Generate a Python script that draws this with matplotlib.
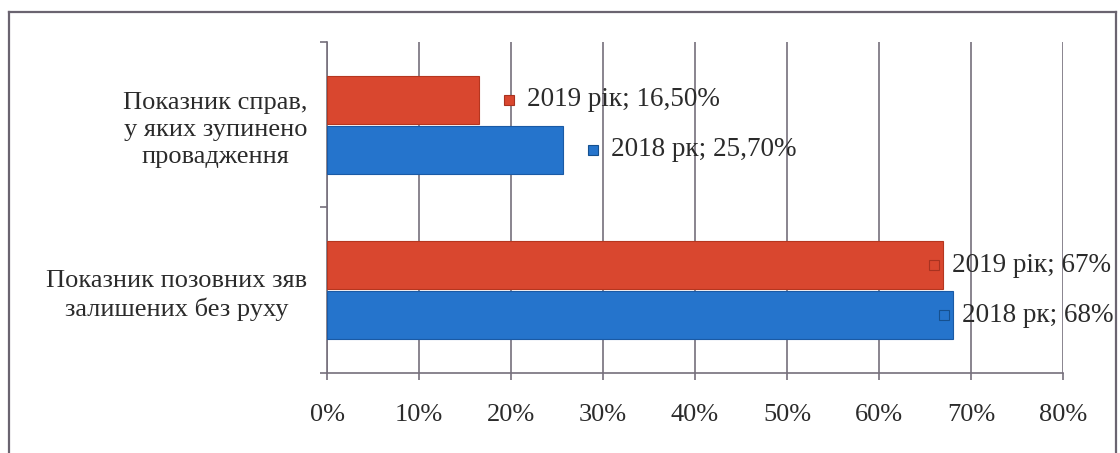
"""
Показники справ: 2018 та 2019 роки
"""

import numpy as np
import matplotlib.pyplot as plt
from matplotlib.transforms import ScaledTranslation

# Категорії (знизу вгору) та значення, %
kategorii = ['Показник позовних зяв\nзалишених без руху',
             'Показник справ,\nу яких зупинено\nпровадження']
znach_2019 = [67.0, 16.5]
znach_2018 = [68.0, 25.7]
pidpys_2019 = ['2019 рік; 67%', '2019 рік; 16,50%']
pidpys_2018 = ['2018 рк; 68%', '2018 рк; 25,70%']
x_ticks = [0, 10, 20, 30, 40, 50, 60, 70, 80]

plt.rcParams['font.family'] = ['Liberation Serif', 'DejaVu Serif']
font = 19
tekst = '#2b2b2b'
syryi = '#766f7c'
chervonyi = '#d9472f'
synii = '#2574cc'

fig = plt.figure(figsize=(11.2, 4.53), dpi=100)
ax = fig.add_axes([0.292, 0.1766, 0.657, 0.7307])

y = np.arange(len(kategorii))
h = 0.29
ax.barh(y + 0.152, znach_2019, height=h, color=chervonyi,
        edgecolor='#b5361f', linewidth=0.8, zorder=3)
ax.barh(y - 0.152, znach_2018, height=h, color=synii,
        edgecolor='#1a5aa5', linewidth=0.8, zorder=3)

# Підписи даних з маркерами (зсув у пікселях: нижня група всередині стовпця)
zsuv = [-9, 30]
for i in range(len(kategorii)):
    for zn, yy, pid, kol, kraj in [
            (znach_2019[i], y[i] + 0.152, pidpys_2019[i], chervonyi, '#a83220'),
            (znach_2018[i], y[i] - 0.152, pidpys_2018[i], synii, '#15508f')]:
        zm = ScaledTranslation(zsuv[i] / 100, 0, fig.dpi_scale_trans)
        ax.plot(zn, yy, 's', ms=7, color=kol, mec=kraj, mew=0.8,
                transform=ax.transData + zm, zorder=6, clip_on=False)
        ax.annotate(pid, xy=(zn, yy), xytext=(zsuv[i] * 0.72 + 13, 0),
                    textcoords='offset points', va='center', ha='left',
                    fontsize=font + 0.5, color=tekst, zorder=6)

ax.set_xlim(0, 80)
ax.set_ylim(-0.5, 1.5)
ax.set_xticks(x_ticks)
ax.set_xticklabels([f'{t}%' for t in x_ticks], fontsize=font, color=tekst)
ax.set_yticks(y)
ax.set_yticklabels(kategorii, fontsize=font, color=tekst,
                   multialignment='center', linespacing=1.3)
ax.set_yticks([-0.5, 0.5, 1.5], minor=True)

ax.tick_params(axis='x', length=5, width=1.2, color=syryi, pad=17)
ax.tick_params(axis='y', which='major', length=0, pad=14)
ax.tick_params(axis='y', which='minor', length=5, width=1.2, color=syryi)

ax.grid(axis='x', color=syryi, linewidth=1.2, zorder=0)
for s in ['top', 'right']:
    ax.spines[s].set_visible(False)
for s in ['left', 'bottom']:
    ax.spines[s].set_color(syryi)
    ax.spines[s].set_linewidth(1.2)

# Рамка навколо діаграми (без нижнього краю)
fig.add_artist(plt.Line2D([0.008, 0.008], [0.0, 0.973], color='#6a6470', lw=1.6))
fig.add_artist(plt.Line2D([0.008, 0.996], [0.973, 0.973], color='#6a6470', lw=1.6))
fig.add_artist(plt.Line2D([0.996, 0.996], [0.0, 0.973], color='#6a6470', lw=1.6))

fig.savefig('out.png', dpi=100)
